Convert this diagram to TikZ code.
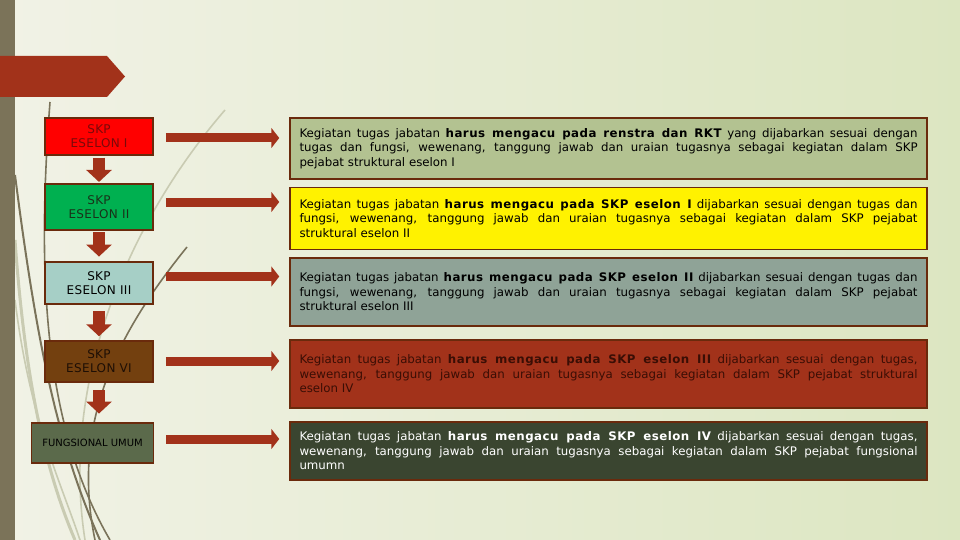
\documentclass[tikz,border=0pt]{standalone}
\usepackage{fontspec}
\setmainfont{DejaVu Sans}
\newfontfamily\spfont[LetterSpace=4]{DejaVu Sans}
\newfontfamily\lbfont[LetterSpace=3]{DejaVu Sans}
\usetikzlibrary{arrows.meta,calc}
\definecolor{bgl}{HTML}{F1F2E6}
\definecolor{bgr}{HTML}{DCE6C1}
\definecolor{barcol}{HTML}{7B7359}
\definecolor{rust}{HTML}{A2321A}
\definecolor{edge}{HTML}{6A2A0C}
\definecolor{decodark}{HTML}{7A735A}
\definecolor{decolight}{HTML}{C9CBB2}
\definecolor{lgreen}{HTML}{00B050}
\definecolor{lteal}{HTML}{A6CFC6}
\definecolor{lbrown}{HTML}{73400F}
\definecolor{lolive}{HTML}{5B6A4B}
\definecolor{rolive}{HTML}{B3C291}
\definecolor{rgray}{HTML}{8FA397}
\definecolor{rdark}{HTML}{3A4530}
\newcommand\B[1]{{\spfont\bfseries #1}}
\begin{document}
\begin{tikzpicture}[x=1pt,y=-1pt,
  lbox/.style={draw=edge, line width=1.5pt, minimum width=108pt, align=center,
    inner sep=0pt, font=\lbfont\fontsize{12pt}{14pt}\selectfont},
  rbox/.style={draw=edge, line width=1.5pt, text width=618pt, inner xsep=9.5pt,
    inner ysep=0pt, align=justify, font=\fontsize{11.8pt}{14.5pt}\selectfont},
  darrow/.style={draw=rust, line width=12pt, -{Triangle[width=25pt,length=12pt]}},
  rarrow/.style={draw=rust, line width=9pt, -{Triangle[width=20pt,length=8pt]}},
  decod/.style={draw=decodark, line width=1.6pt},
  decol/.style={draw=decolight, line width=1.6pt}]
\useasboundingbox (0,0) rectangle (960,540);
\shade[left color=bgl, right color=bgr] (0,0) rectangle (960,540);
% decorative curves
\draw[decol, line width=3pt] (15,240) .. controls (25,380) and (45,470) .. (75,540);
\draw[decol] (225,110) .. controls (130,220) and (60,380) .. (85,540);
\draw[decol] (15,300) .. controls (30,420) and (60,480) .. (80,540);
\draw[decod] (50,102) .. controls (38,260) and (40,420) .. (110,540);
\draw[decod, line width=2pt] (15,175) .. controls (35,330) and (55,440) .. (100,540);
\draw[decod] (187,247) .. controls (120,330) and (70,420) .. (95,540);
% left bar and banner
\fill[barcol] (0,0) rectangle (15,540);
\fill[rust] (0,56) -- (107,56) -- (125,76.5) -- (107,97) -- (0,97) -- cycle;
% left boxes
\node[lbox, fill=red, text={rgb,255:red,122;green,10;blue,10}, minimum height=37pt] (l1) at (99,136.5) {SKP\\ESELON I};
\node[lbox, fill=lgreen, text={rgb,255:red,25;green,50;blue,25}, minimum height=46pt] (l2) at (99,207) {SKP\\ESELON II};
\node[lbox, fill=lteal, text=black, minimum height=42pt] (l3) at (99,283) {SKP\\ESELON III};
\node[lbox, fill=lbrown, text={rgb,255:red,30;green,15;blue,5}, minimum height=41pt] (l4) at (99,361.5) {SKP\\ESELON VI};
\node[lbox, fill=lolive, text=black, minimum width=121.6pt, minimum height=40pt,
  font=\fontsize{10pt}{12pt}\selectfont] (l5) at (92.5,443) {FUNGSIONAL UMUM};
% right boxes
\node[rbox, fill=rolive, text=black, minimum height=61pt] (r1) at (608.5,148.5)
{Kegiatan tugas jabatan \B{harus mengacu pada renstra dan RKT} yang dijabarkan sesuai dengan\linebreak tugas dan fungsi, wewenang, tanggung jawab dan uraian tugasnya sebagai kegiatan dalam SKP\linebreak pejabat struktural eselon I};
\node[rbox, fill=yellow, text=black, minimum height=62pt] (r2) at (608.5,218.5)
{Kegiatan tugas jabatan \B{harus mengacu pada SKP eselon I} dijabarkan sesuai dengan tugas dan\linebreak fungsi, wewenang, tanggung jawab dan uraian tugasnya sebagai kegiatan dalam SKP pejabat\linebreak struktural eselon II};
\node[rbox, fill=rgray, text=black, minimum height=68pt] (r3) at (608.5,292)
{Kegiatan tugas jabatan \B{harus mengacu pada SKP eselon II} dijabarkan sesuai dengan tugas dan\linebreak fungsi, wewenang, tanggung jawab dan uraian tugasnya sebagai kegiatan dalam SKP pejabat\linebreak struktural eselon III};
\node[rbox, fill=rust, text={rgb,255:red,58;green,14;blue,5}, minimum height=68pt] (r4) at (608.5,374)
{Kegiatan tugas jabatan \B{harus mengacu pada SKP eselon III} dijabarkan sesuai dengan tugas,\linebreak wewenang, tanggung jawab dan uraian tugasnya sebagai kegiatan dalam SKP pejabat struktural\linebreak eselon IV};
\node[rbox, fill=rdark, text=white, minimum height=58pt] (r5) at (608.5,451)
{Kegiatan tugas jabatan \B{harus mengacu pada SKP eselon IV} dijabarkan sesuai dengan tugas,\linebreak wewenang, tanggung jawab dan uraian tugasnya sebagai kegiatan dalam SKP pejabat fungsional\linebreak umumn};
% down arrows
\draw[darrow] ($(l1.south)+(0,2)$) -- ($(l2.north)+(0,-1.3)$);
\draw[darrow] ($(l2.south)+(0,1.7)$) -- ($(l3.north)+(0,-4.7)$);
\draw[darrow] ($(l3.south)+(0,6.7)$) -- ($(l4.north)+(0,-4)$);
\draw[darrow] ($(l4.south)+(0,7)$) -- ($(l4.south |- l5.north)+(0,-8.7)$);
% right arrows
\draw[rarrow] ($(l1.east)+(12,1.5)$) -- ($(l1.east -| r1.west)+(-10,1.5)$);
\draw[rarrow] ($(l2.east)+(12,-5)$) -- ($(l2.east -| r2.west)+(-10,-5)$);
\draw[rarrow] ($(l3.east)+(12,-6.5)$) -- ($(l3.east -| r3.west)+(-10,-6.5)$);
\draw[rarrow] ($(l4.east)+(12,-0.5)$) -- ($(l4.east -| r4.west)+(-10,-0.5)$);
\draw[rarrow] ($(l5.east)+(12,-4)$) -- ($(l5.east -| r5.west)+(-10,-4)$);
\end{tikzpicture}
\end{document}
